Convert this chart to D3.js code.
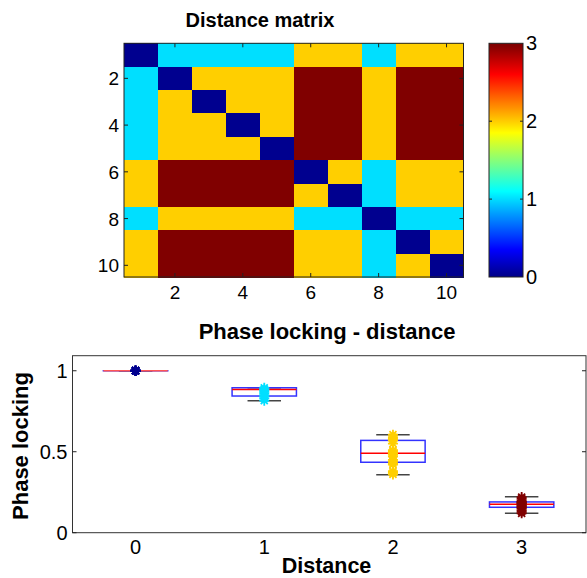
<!DOCTYPE html>
<html><head><meta charset="utf-8">
<script src="https://cdn.jsdelivr.net/npm/d3@7"></script>
<style>
html,body{margin:0;padding:0;background:#fff;}
svg{display:block;}
text{font-family:"Liberation Sans",Arial,sans-serif;fill:#000;}
</style></head>
<body><svg id="c" width="587" height="578"></svg>
<script>
// ---------- data ----------
const nodes = [1,2,3,4,5,6,7,8,9,10];
const distRow1  = [0,1,1,1,1,2,2,1,2,2];
const distRow2  = [1,0,2,2,2,3,3,2,3,3];
const distRow3  = [1,2,0,2,2,3,3,2,3,3];
const distRow4  = [1,2,2,0,2,3,3,2,3,3];
const distRow5  = [1,2,2,2,0,3,3,2,3,3];
const distRow6  = [2,3,3,3,3,0,2,1,2,2];
const distRow7  = [2,3,3,3,3,2,0,1,2,2];
const distRow8  = [1,2,2,2,2,1,1,0,1,1];
const distRow9  = [2,3,3,3,3,2,2,1,0,2];
const distRow10 = [2,3,3,3,3,2,2,1,2,0];
const matrixTicks = [2,4,6,8,10];
const colorbarTicks = [0,1,2,3];

const distances = [0,1,2,3];
const plDist0 = [1,1,1,1,1,1,1,1,1,1];
const plDist1 = [0.815,0.83,0.84,0.85,0.86,0.87,0.88,0.885,0.895];
const plDist2 = [0.36,0.37,0.38,0.42,0.43,0.44,0.45,0.47,0.48,0.49,0.49,0.49,0.50,0.51,0.55,0.57,0.57,0.58,0.59,0.605];
const plDist3 = [0.12,0.13,0.14,0.15,0.155,0.16,0.165,0.17,0.18,0.18,0.185,0.19,0.19,0.20,0.21,0.22];
const boxQ1   = [1, 0.844, 0.435, 0.157];
const boxMed  = [1, 0.885, 0.490, 0.175];
const boxQ3   = [1, 0.895, 0.570, 0.190];
const whiskLo = [1, 0.815, 0.358, 0.120];
const whiskHi = [1, 0.895, 0.605, 0.222];
const plTicks = [0, 0.5, 1];

// ---------- helpers ----------
function jet(m){
  const n = Math.ceil(m/4);
  const u = [];
  for(let i=1;i<=n;i++) u.push(i/n);
  for(let i=1;i<n;i++) u.push(1);
  for(let i=n;i>=1;i--) u.push(i/n);
  const g0 = Math.ceil(n/2) - (m%4===1?1:0);
  const cols = Array.from({length:m},()=>[0,0,0]);
  u.forEach((v,k)=>{
    const g = g0 + k + 1, r = g + n, b = g - n;
    if(g>=1&&g<=m) cols[g-1][1]=v;
    if(r>=1&&r<=m) cols[r-1][0]=v;
    if(b>=1&&b<=m) cols[b-1][2]=v;
  });
  return cols.map(c=>d3.rgb(c[0]*255,c[1]*255,c[2]*255).formatHex());
}
const cmap = jet(64);
const cmin=0, cmax=3;
function colorOf(v){
  let idx = Math.floor((v-cmin)/(cmax-cmin)*64);
  idx = Math.max(0, Math.min(63, idx));
  return cmap[idx];
}

const svg = d3.select("#c");
const FONT = 19;

// ---------- distance matrix ----------
const matrix = [distRow1,distRow2,distRow3,distRow4,distRow5,distRow6,distRow7,distRow8,distRow9,distRow10];
const mx = d3.scaleLinear().domain([0.5,10.5]).range([124,463.5]);
const my = d3.scaleLinear().domain([0.5,10.5]).range([43.3,277]);
const gM = svg.append("g");
matrix.forEach((row,i)=>{
  row.forEach((v,j)=>{
    gM.append("rect")
      .attr("x", mx(nodes[j]-0.5)).attr("y", my(nodes[i]-0.5))
      .attr("width", mx(nodes[j]+0.5)-mx(nodes[j]-0.5)+0.6)
      .attr("height", my(nodes[i]+0.5)-my(nodes[i]-0.5)+0.6)
      .attr("shape-rendering","crispEdges")
      .attr("fill", colorOf(v));
  });
});
gM.append("rect").attr("x",mx(0.5)).attr("y",my(0.5))
  .attr("width",mx(10.5)-mx(0.5)).attr("height",my(10.5)-my(0.5))
  .attr("fill","none").attr("stroke","#222").attr("stroke-width",1);
const tl = 4;
matrixTicks.forEach(t=>{
  gM.append("line").attr("x1",mx(t)).attr("x2",mx(t)).attr("y1",my(10.5)).attr("y2",my(10.5)-tl).attr("stroke","#222");
  gM.append("line").attr("x1",mx(t)).attr("x2",mx(t)).attr("y1",my(0.5)).attr("y2",my(0.5)+tl).attr("stroke","#222");
  gM.append("line").attr("y1",my(t)).attr("y2",my(t)).attr("x1",mx(0.5)).attr("x2",mx(0.5)+tl).attr("stroke","#222");
  gM.append("line").attr("y1",my(t)).attr("y2",my(t)).attr("x1",mx(10.5)).attr("x2",mx(10.5)-tl).attr("stroke","#222");
  gM.append("text").attr("x",mx(t)).attr("y",my(10.5)+22).attr("text-anchor","middle")
    .attr("font-size",FONT).text(t);
  gM.append("text").attr("x",mx(0.5)-5).attr("y",my(t)+7).attr("text-anchor","end")
    .attr("font-size",FONT).text(t);
});
svg.append("text").attr("x",260).attr("y",26.5).attr("text-anchor","middle")
  .attr("font-size",20).attr("font-weight","bold").text("Distance matrix");

// ---------- colorbar ----------
const cbX0=489, cbX1=523;
const cy = d3.scaleLinear().domain([cmin,cmax]).range([277,43.3]);
const gC = svg.append("g");
const grad = svg.append("defs").append("linearGradient").attr("id","jetgrad")
  .attr("x1","0").attr("y1","1").attr("x2","0").attr("y2","0");
cmap.forEach((c,k)=>{
  grad.append("stop").attr("offset",(k+0.5)/64).attr("stop-color",c);
});
gC.append("rect").attr("x",cbX0).attr("y",cy(cmax)).attr("width",cbX1-cbX0).attr("height",cy(cmin)-cy(cmax))
  .attr("fill","url(#jetgrad)").attr("stroke","#222");
colorbarTicks.forEach(t=>{
  if(t>cmin && t<cmax){
    gC.append("line").attr("x1",cbX0).attr("x2",cbX0+3).attr("y1",cy(t)).attr("y2",cy(t)).attr("stroke","#222");
    gC.append("line").attr("x1",cbX1).attr("x2",cbX1-3).attr("y1",cy(t)).attr("y2",cy(t)).attr("stroke","#222");
  }
  gC.append("text").attr("x",cbX1+3).attr("y",cy(t)+7).attr("font-size",FONT+1).text(t);
});

// ---------- phase locking vs distance ----------
const px = d3.scaleLinear().domain([-0.49,3.5]).range([72.5,586]);
const py = d3.scaleLinear().domain([0,1.093]).range([532.7,355.7]);
const gP = svg.append("g");
gP.append("rect").attr("x",px(-0.49)).attr("y",py(1.093)).attr("width",px(3.5)-px(-0.49)).attr("height",py(0)-py(1.093))
  .attr("fill","none").attr("stroke","#333").attr("stroke-width",1);
plTicks.forEach(t=>{
  gP.append("line").attr("x1",px(-0.49)).attr("x2",px(-0.49)+4).attr("y1",py(t)).attr("y2",py(t)).attr("stroke","#222");
  gP.append("line").attr("x1",px(3.5)).attr("x2",px(3.5)-4).attr("y1",py(t)).attr("y2",py(t)).attr("stroke","#222");
  gP.append("text").attr("x",px(-0.49)-5).attr("y",py(t)+7).attr("text-anchor","end").attr("font-size",20).text(t);
});
distances.forEach(d=>{
  gP.append("text").attr("x",px(d)).attr("y",py(0)+21).attr("text-anchor","middle").attr("font-size",20).text(d);
});
const halfBox = 0.25, halfCap = 0.13;
const plSets = [plDist0,plDist1,plDist2,plDist3];
distances.forEach((d,i)=>{
  gP.append("line").attr("x1",px(d)).attr("x2",px(d)).attr("y1",py(boxQ3[i])).attr("y2",py(whiskHi[i]))
    .attr("stroke","#000").attr("stroke-dasharray","3,2");
  gP.append("line").attr("x1",px(d)).attr("x2",px(d)).attr("y1",py(boxQ1[i])).attr("y2",py(whiskLo[i]))
    .attr("stroke","#000").attr("stroke-dasharray","3,2");
  [whiskLo[i],whiskHi[i]].forEach(w=>{
    gP.append("line").attr("x1",px(d-halfCap)).attr("x2",px(d+halfCap)).attr("y1",py(w)).attr("y2",py(w))
      .attr("stroke","#444").attr("stroke-width",1.5);
  });
  gP.append("rect").attr("x",px(d-halfBox)).attr("width",px(d+halfBox)-px(d-halfBox))
    .attr("y",py(boxQ3[i])).attr("height",Math.max(0.01,py(boxQ1[i])-py(boxQ3[i])))
    .attr("fill","none").attr("stroke","#3333ff").attr("stroke-width",1.5);
  gP.append("line").attr("x1",px(d-halfBox)).attr("x2",px(d+halfBox)).attr("y1",py(boxMed[i])).attr("y2",py(boxMed[i]))
    .attr("stroke", i===0?"#ff5555":"#ff0000").attr("stroke-width",1.5);
});
const star = (s)=>`M${-s},0H${s}M0,${-s}V${s}M${-s*0.7},${-s*0.7}L${s*0.7},${s*0.7}M${-s*0.7},${s*0.7}L${s*0.7},${-s*0.7}`;
distances.forEach((d,i)=>{
  const col = colorOf(d);
  plSets[i].forEach(v=>{
    gP.append("path").attr("d",star(5)).attr("transform",`translate(${px(d)},${py(v)})`)
      .attr("fill","none").attr("stroke",col).attr("stroke-width",1.8);
  });
});
svg.append("text").attr("x",327).attr("y",339).attr("text-anchor","middle")
  .attr("font-size",22).attr("font-weight","bold").text("Phase locking - distance");
svg.append("text").attr("x",326.5).attr("y",573).attr("text-anchor","middle")
  .attr("font-size",21.5).attr("font-weight","bold").text("Distance");
svg.append("text").attr("transform","translate(28,446) rotate(-90)").attr("text-anchor","middle")
  .attr("font-size",22).attr("font-weight","bold").text("Phase locking");
</script></body></html>
